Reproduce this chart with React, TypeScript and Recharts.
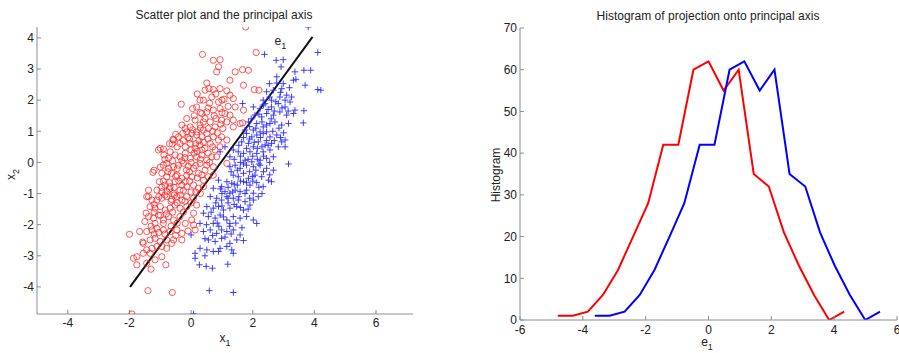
import React from 'react';
import { ScatterChart, Scatter, XAxis, YAxis, ReferenceLine, ReferenceDot, LineChart, Line } from 'recharts';

const FONT = '"Liberation Sans", Arial, Helvetica, sans-serif';
const AXIS = '#8a8a94';
const TXT = '#222';

// ---- scatter data ----
const redPoints: [number, number][] = [
  [1.77,4.35],[2.11,3.53],[0.37,3.47],[0.72,3.28],[0.94,3.30],[0.89,3.07],[0.83,2.91],[1.43,2.91],[1.67,2.98],[1.86,2.96],
  [1.70,2.48],[2.05,2.34],[2.20,2.32],[0.51,2.55],[1.26,2.64],[-0.32,1.87],[1.70,1.68],[1.67,1.27],
  [0.45,2.32],[0.58,2.37],[0.72,2.34],[0.94,2.37],[1.16,2.30],[1.26,2.16],[0.67,2.10],[1.07,2.03],[0.29,2.00],[0.89,1.94],[1.37,2.05],[1.43,1.78],
  [0.05,1.73],[0.18,1.78],[0.35,1.57],[0.51,1.62],[0.72,1.68],[0.94,1.73],[1.10,1.57],[1.26,1.52],[1.37,1.36],[0.13,1.36],
  [0.29,1.20],[0.45,1.41],[0.62,1.30],[0.81,1.41],[0.99,1.36],[1.16,1.30],[-0.14,1.41],[-0.19,1.09],[-0.03,1.14],[0.18,0.98],
  [0.40,1.04],[0.56,1.09],[0.78,1.14],[0.96,1.23],[1.37,1.14],[1.59,1.25],
  [-0.57,0.72],[-0.41,0.82],[-0.27,0.93],[-0.14,0.98],[0.02,0.93],[0.18,0.88],[0.35,0.82],[0.51,0.93],[0.72,0.82],[0.89,0.72],
  [-0.36,0.61],[-0.19,0.50],[-0.03,0.61],[0.13,0.45],[0.29,0.56],[0.45,0.45],[0.62,0.61],[0.78,0.40],[0.94,0.50],[-0.68,0.34],
  [-0.52,0.24],[-0.36,0.18],[-0.19,0.29],[-0.03,0.13],[0.18,0.18],[0.35,0.24],[0.51,0.07],[0.67,0.18],[0.83,0.18],[-1.00,0.45],
  [-0.88,0.24],[-0.61,0.59],[0.99,0.82],[1.16,0.72],[1.03,1.09],[-0.73,0.13],[-0.79,-0.03],[-1.06,0.40],[-0.90,0.43],[-0.59,0.74],[-1.24,-0.32],
  [-0.90,-0.09],[-0.73,-0.19],[-0.57,-0.14],[-0.41,-0.09],[-0.25,-0.03],[-0.09,-0.12],[0.08,-0.19],[0.29,-0.03],[0.51,-0.09],[0.72,-0.14],
  [-0.95,-0.35],[-0.79,-0.46],[-0.63,-0.35],[-0.46,-0.41],[-0.30,-0.51],[-0.14,-0.41],[0.02,-0.46],[0.24,-0.35],[0.40,-0.57],[0.56,-0.46],
  [0.72,-0.41],[-1.20,-0.25],[-1.03,-0.62],[-0.84,-0.73],[-0.68,-0.78],[-0.52,-0.62],[-0.30,-0.73],[-0.14,-0.78],[0.08,-0.73],[0.24,-0.83],
  [0.40,-0.78],[-1.11,-0.89],[-0.95,-0.94],[-0.79,-0.94],[-0.57,-0.99],[-0.36,-0.89],[-0.19,-0.62],[1.16,-0.03],[-1.38,-0.89],[-1.38,-1.10],
  [-1.44,-1.10],[-1.27,-1.21],[-1.11,-1.21],[-0.95,-1.15],[-0.79,-1.10],[-0.63,-1.19],[-0.46,-1.10],[-0.30,-1.21],[-0.14,-1.10],[0.08,-1.15],
  [-1.33,-1.42],[-1.17,-1.47],[-1.00,-1.42],[-0.84,-1.53],[-0.68,-1.47],[-0.52,-1.37],[-0.36,-1.47],[-0.14,-1.42],[0.18,-1.37],
  [-1.38,-1.74],[-1.22,-1.79],[-1.06,-1.69],[-0.90,-1.85],[-0.73,-1.74],[-0.57,-1.85],[-0.36,-1.74],[-0.19,-1.96],[0.02,-1.85],
  [-0.90,-1.96],[-1.17,-1.96],[-1.46,-1.63],[0.08,-1.63],
  [-2.00,-2.31],[-1.67,-2.22],[-1.44,-2.22],[-1.27,-2.17],[-1.11,-2.12],[-0.90,-2.17],[-0.68,-2.22],[-0.46,-2.17],[-0.30,-2.28],[0.08,-2.01],
  [0.13,-2.17],[-1.55,-2.60],[-1.33,-2.49],[-1.17,-2.44],[-1.00,-2.54],[-0.79,-2.49],[-0.57,-2.49],[-1.27,-2.76],[-1.11,-2.70],[-0.95,-2.70],
  [-0.79,-2.76],[-0.63,-2.60],[-1.44,-2.81],[-1.76,-3.03],[-1.55,-2.92],[-1.33,-2.92],[-0.30,-2.49],[-1.57,-2.56],
  [-1.87,-3.08],[-1.76,-3.29],[-1.44,-3.24],[-1.30,-3.43],[-0.82,-3.29],[-1.40,-4.12],[-0.61,-4.18],[-1.92,-4.87],[-1.17,-3.13],[-0.95,-3.03],
];

// denser core of the red class
const redCorePoints: [number, number][] = [
  [0.2,2.2],[0.4,2.0],[0.6,1.9],[0.8,2.2],[1.0,2.0],[0.3,1.6],[0.55,1.75],[0.75,1.5],[1.0,1.6],[1.2,1.8],[0.1,1.5],[0.4,1.3],
  [-0.3,1.2],[-0.1,0.8],[0.05,1.05],[0.25,0.7],[0.4,0.65],[0.55,0.75],[0.7,1.0],[0.85,0.95],[-0.45,0.5],[-0.25,0.7],[0.0,0.4],
  [0.2,0.35],[0.35,0.4],[0.55,0.3],[0.7,0.5],[-0.05,0.75],[0.15,0.6],[-0.5,0.9],[-0.7,0.6],[0.3,1.1],
  [-0.6,0.05],[-0.45,-0.2],[-0.3,0.05],[-0.15,-0.25],[0.0,0.0],[0.15,-0.1],[0.3,0.1],[0.45,-0.25],[-0.75,-0.3],[-0.5,-0.45],
  [-0.2,0.15],[0.1,0.3],[0.35,-0.4],[-0.05,-0.3],[0.6,0.0],[-0.85,0.1],[-1.0,-0.15],[0.2,-0.5],
  [-0.9,-0.6],[-0.7,-0.65],[-0.55,-0.8],[-0.4,-0.6],[-0.25,-0.9],[-0.05,-0.6],[0.15,-0.95],[0.3,-1.0],[-0.85,-1.05],[-0.65,-1.25],
  [-0.45,-1.3],[-0.2,-1.25],[0.0,-1.3],[-1.05,-1.1],[-1.2,-1.35],[-0.55,-1.05],[-0.7,-0.85],[-0.35,-1.05],[0.0,-0.95],[-0.95,-0.8],
  [-1.2,-1.6],[-1.0,-1.7],[-0.8,-1.65],[-0.6,-1.6],[-0.45,-1.95],[-0.65,-2.05],[-0.85,-2.3],[-1.05,-2.25],[-1.3,-2.05],[-1.5,-1.9],
  [-0.25,-1.6],[-0.1,-2.2],[-0.5,-2.35],[-1.2,-2.3],
];

const bluePoints: [number, number][] = [
  [3.80,4.35],[4.11,3.53],[2.38,3.47],[2.76,3.28],[2.99,3.30],[2.92,3.07],[3.37,2.91],[3.66,2.96],[3.88,2.96],[2.54,2.53],
  [2.78,2.55],[3.40,2.67],[3.70,2.48],[4.11,2.34],[4.21,2.32],[1.67,1.89],[3.66,1.66],[3.64,1.27],[3.16,-0.05],[0.00,-2.33],
  [0.89,-2.86],[1.32,-2.81],[1.70,-2.51],
  [2.45,2.27],[2.67,2.32],[2.94,2.37],[3.19,2.40],[3.32,2.64],[3.10,2.16],[3.26,2.10],[2.88,2.10],[2.61,2.00],[2.34,2.00],[2.99,2.53],[2.78,2.75],
  [2.02,1.78],[2.24,1.73],[2.40,1.89],[2.61,1.78],[2.83,1.89],[3.05,1.78],[3.21,1.94],[3.37,1.68],[2.07,1.52],[2.29,1.46],
  [2.45,1.57],[2.67,1.52],[2.88,1.62],[3.10,1.52],[3.32,1.57],[1.86,1.30],[2.13,1.25],[2.34,1.14],[2.56,1.25],[2.72,1.30],
  [2.94,1.20],[3.16,1.25],[2.45,0.98],[2.02,1.04],[2.24,0.98],[1.75,1.04],
  [1.80,0.93],[1.97,0.82],[2.13,0.88],[2.34,0.93],[2.56,0.82],[2.78,0.88],[2.94,0.66],[3.05,0.50],[1.64,0.66],[1.86,0.61],
  [2.02,0.50],[2.18,0.66],[2.40,0.56],[2.61,0.61],[2.83,0.50],[1.37,0.40],[1.53,0.34],[1.70,0.29],[1.91,0.34],[2.13,0.29],
  [2.34,0.34],[2.56,0.40],[2.67,0.18],[1.75,0.07],[1.97,0.02],[2.24,0.07],[2.45,0.13],[1.26,0.18],[1.10,0.50],[0.94,0.34],[3.05,0.72],
  [1.26,-0.14],[1.43,-0.09],[1.59,-0.19],[1.80,-0.09],[2.02,-0.14],[2.24,-0.09],[2.45,-0.19],[2.67,-0.25],[1.37,-0.41],[1.53,-0.46],
  [1.70,-0.35],[1.86,-0.51],[2.07,-0.41],[2.29,-0.46],[2.51,-0.57],[1.16,-0.62],[1.32,-0.67],[1.50,-0.73],[1.70,-0.62],[1.91,-0.73],
  [2.13,-0.65],[2.34,-0.78],[2.61,-0.62],[0.99,-0.78],[1.10,-0.94],[1.26,-0.99],[1.43,-0.89],[1.59,-0.94],[1.80,-0.89],[2.02,-0.99],
  [0.72,-0.83],[0.89,-0.57],
  [0.62,-1.10],[0.83,-1.15],[0.99,-1.21],[1.16,-1.10],[1.37,-1.15],[1.53,-1.21],[1.75,-1.26],[2.02,-1.21],[2.18,-1.10],[0.51,-1.42],
  [0.72,-1.47],[0.89,-1.42],[1.05,-1.53],[1.26,-1.47],[1.48,-1.42],[1.70,-1.53],[1.91,-1.37],[0.56,-1.74],[0.78,-1.79],[0.94,-1.69],
  [1.16,-1.85],[1.37,-1.74],[1.59,-1.79],[1.80,-1.74],[2.02,-1.85],[2.13,-1.96],[0.40,-1.63],[0.29,-1.96],[0.72,-1.96],[1.26,-1.96],
  [0.40,-2.22],[0.62,-2.17],[0.83,-2.28],[0.99,-2.17],[1.16,-2.22],[1.37,-2.17],[1.59,-2.33],[0.56,-2.49],[0.78,-2.54],[0.99,-2.44],
  [1.26,-2.60],[1.48,-2.49],[0.29,-2.76],[0.51,-2.81],[0.72,-2.86],[0.94,-2.76],[1.16,-2.70],[1.37,-2.92],[0.13,-2.92],[0.45,-3.00],
  [0.13,-3.08],[0.27,-3.29],[0.49,-3.34],[0.69,-3.40],[0.59,-4.12],[1.37,-4.18],[0.08,-4.87],[1.19,-3.27],
];

// denser core of the blue class
const blueCorePoints: [number, number][] = [
  [2.55,2.1],[2.75,1.95],[2.9,2.25],[3.05,2.0],[2.5,1.7],[2.7,1.65],[2.95,1.75],[3.15,1.65],[2.2,1.55],[2.35,1.85],
  [1.9,1.15],[2.1,1.1],[2.3,1.3],[2.45,1.2],[2.65,1.0],[2.85,1.1],[3.0,0.95],[1.7,0.8],[1.9,0.75],[2.05,0.65],
  [2.25,0.8],[2.45,0.7],[2.7,0.7],[2.9,0.8],[1.55,0.55],[2.3,0.5],[2.5,0.55],[1.95,1.4],[2.6,1.4],[2.15,0.45],
  [1.4,0.1],[1.6,0.2],[1.8,0.45],[2.0,0.2],[2.15,0.1],[2.35,0.2],[2.55,0.0],[1.5,-0.25],[1.7,-0.05],[1.9,-0.3],
  [2.1,-0.25],[2.35,-0.3],[2.55,-0.4],[1.3,-0.3],[1.6,0.0],[2.0,-0.45],[2.2,-0.05],[1.85,0.1],
  [1.2,-0.8],[1.4,-0.7],[1.6,-0.6],[1.8,-0.65],[2.0,-0.6],[2.2,-0.8],[1.0,-1.0],[1.2,-1.15],[1.35,-0.95],[1.55,-1.1],
  [1.75,-1.0],[1.9,-1.15],[0.8,-1.3],[1.0,-1.4],[1.2,-1.3],[1.4,-1.35],[1.6,-1.45],[1.85,-1.5],[0.95,-0.85],[2.3,-1.0],
  [0.65,-1.6],[0.85,-1.95],[1.05,-1.75],[1.25,-2.05],[1.45,-1.95],[1.65,-2.1],[0.5,-2.0],[0.7,-2.35],[0.9,-2.05],[1.1,-2.4],
  [1.3,-2.3],[0.45,-2.45],
];

const principalAxis = [{ x: -1.98, y: -4.0 }, { x: 3.94, y: 4.03 }];
const e1LabelPos = { x: 2.9, y: 3.87 };

const scatterXTicks = [-4, -2, 0, 2, 4, 6];
const scatterYTicks = [-4, -3, -2, -1, 0, 1, 2, 3, 4];
const scatterXDomain = [-5, 7.2];
const scatterYDomain = [-4.87, 4.35];

// ---- histogram data ----
const histRedX = [-4.80,-4.32,-3.84,-3.36,-2.88,-2.40,-1.92,-1.44,-0.96,-0.48,0.00,0.48,0.96,1.44,1.92,2.40,2.88,3.36,3.84,4.32];
const histRedCount = [1,1,2,6,12,20,28,42,42,60,62,55,60,35,32,21,13,6,0,2];
const histBlueX = [-3.62,-3.15,-2.67,-2.19,-1.72,-1.24,-0.77,-0.28,0.19,0.67,1.14,1.63,2.10,2.58,3.08,3.55,4.02,4.50,4.99,5.46];
const histBlueCount = [1,1,2,6,12,20,28,42,42,60,62,55,60,35,32,21,13,6,0,2];

const histXTicks = [-6, -4, -2, 0, 2, 4, 6];
const histYTicks = [0, 10, 20, 30, 40, 50, 60, 70];

const redData = [...redPoints, ...redCorePoints].map(([x, y]) => ({ x, y }));
const blueData = [...bluePoints, ...blueCorePoints].map(([x, y]) => ({ x, y }));
const histRed = histRedX.map((x, i) => ({ x, y: histRedCount[i] }));
const histBlue = histBlueX.map((x, i) => ({ x, y: histBlueCount[i] }));

const Circle = (p: any) => (
  <circle cx={p.cx} cy={p.cy} r={3.1} fill="none" stroke="#ff2a2a" strokeWidth={0.8} />
);
const Plus = (p: any) => (
  <path d={`M${p.cx - 3.2},${p.cy}H${p.cx + 3.2}M${p.cx},${p.cy - 3.2}V${p.cy + 3.2}`} stroke="#2a2aff" strokeWidth={0.9} fill="none" />
);

const tickStyle = { fill: TXT, fontSize: 12, fontFamily: FONT };

const SubText = ({ x, y, main, sub, rotate }: any) => (
  <text
    x={x}
    y={y}
    fill={TXT}
    fontSize={12}
    fontFamily={FONT}
    textAnchor="middle"
    transform={rotate ? `rotate(-90 ${x} ${y})` : undefined}
  >
    {main}
    <tspan fontSize={9} dy={4}>{sub}</tspan>
  </text>
);

export default function App() {
  return (
    <div style={{ position: 'absolute', left: 0, top: 0, width: 899, height: 353, overflow: 'hidden', background: '#fff' }}>
      <div style={{ position: 'absolute', left: 0, top: 0 }}>
        <ScatterChart width={450} height={353} margin={{ top: 27, right: 37, bottom: 9, left: 7 }}>
          <text x={224} y={19} textAnchor="middle" fontSize={12} fontFamily={FONT} fill={TXT}>
            Scatter plot and the principal axis
          </text>
          <XAxis
            type="number"
            dataKey="x"
            domain={scatterXDomain}
            ticks={scatterXTicks}
            allowDataOverflow
            height={30}
            stroke={AXIS}
            tickSize={-4}
            tickMargin={8}
            tick={tickStyle}
            label={{ content: (pr: any) => <SubText x={pr.viewBox.x + pr.viewBox.width / 2} y={342} main="x" sub="1" /> }}
          />
          <YAxis
            type="number"
            dataKey="y"
            domain={scatterYDomain}
            ticks={scatterYTicks}
            allowDataOverflow
            width={30}
            stroke={AXIS}
            tickSize={-4}
            tickMargin={7}
            tick={tickStyle}
            label={{ content: (pr: any) => <SubText x={15} y={pr.viewBox.y + pr.viewBox.height / 2 + 4} main="x" sub="2" rotate /> }}
          />
          <Scatter data={redData} shape={Circle} isAnimationActive={false} />
          <Scatter data={blueData} shape={Plus} isAnimationActive={false} />
          <ReferenceLine segment={principalAxis} stroke="#111" strokeWidth={2} ifOverflow="visible" />
          <ReferenceDot
            x={e1LabelPos.x}
            y={e1LabelPos.y}
            r={0}
            ifOverflow="visible"
            label={{ content: (pr: any) => <SubText x={pr.viewBox.x} y={pr.viewBox.y + 3} main="e" sub="1" /> }}
          />
        </ScatterChart>
      </div>
      <div style={{ position: 'absolute', left: 450, top: 0 }}>
        <LineChart width={460} height={353} margin={{ top: 28, right: 13, bottom: 3, left: 40 }}>
          <text x={258} y={20} textAnchor="middle" fontSize={12} fontFamily={FONT} fill={TXT}>
            Histogram of projection onto principal axis
          </text>
          <XAxis
            type="number"
            dataKey="x"
            domain={[-6, 6]}
            ticks={histXTicks}
            allowDataOverflow
            height={30}
            stroke={AXIS}
            tickSize={-4}
            tickMargin={9}
            tick={tickStyle}
            interval={0}
            label={{ content: () => <SubText x={257} y={346} main="e" sub="1" /> }}
          />
          <YAxis
            type="number"
            domain={[0, 70]}
            ticks={histYTicks}
            allowDataOverflow
            width={30}
            stroke={AXIS}
            tickSize={-4}
            tickMargin={7}
            tick={tickStyle}
            label={{ content: () => (
              <text x={50} y={175} transform="rotate(-90 50 175)" textAnchor="middle" fontSize={12} fontFamily={FONT} fill={TXT}>Histogram</text>
            ) }}
          />
          <Line data={histRed} dataKey="y" stroke="#ff0000" strokeWidth={2} dot={false} isAnimationActive={false} type="linear" />
          <Line data={histBlue} dataKey="y" stroke="#0000ff" strokeWidth={2} dot={false} isAnimationActive={false} type="linear" />
        </LineChart>
      </div>
    </div>
  );
}
